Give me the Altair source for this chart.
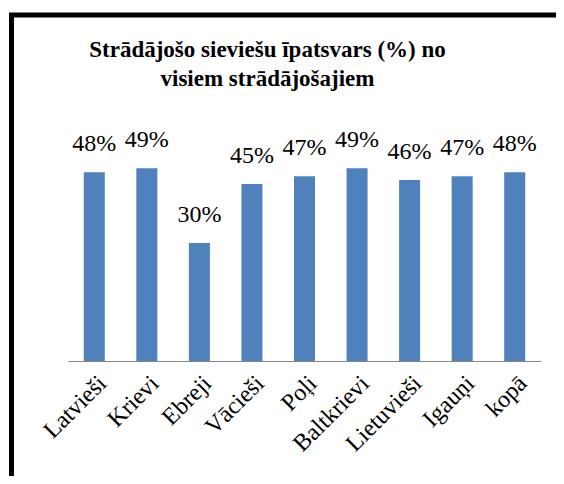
import altair as alt
import pandas as pd

categories = ["Latvieši", "Krievi", "Ebreji", "Vācieši", "Poļi", "Baltkrievi", "Lietuvieši", "Igauņi", "kopā"]
values = [48, 49, 30, 45, 47, 49, 46, 47, 48]
title_lines = ["Strādājošo sieviešu īpatsvars (%) no", "visiem strādājošajiem"]

df = pd.DataFrame({"cat": categories, "v": values})
df["label"] = [f"{v}%" for v in values]

SERIF = "Liberation Serif"

x_enc = alt.X("cat:N", sort=categories, title=None,
              scale=alt.Scale(paddingInner=0.6, paddingOuter=0.3),
              axis=alt.Axis(labelAngle=-45, labelFont=SERIF, labelFontSize=24,
                            labelColor="#000000", ticks=False, labelPadding=10,
                            domainColor="#868686", domainWidth=1.2, grid=False))
y_enc = alt.Y("v:Q", scale=alt.Scale(domain=[0, 60]), axis=None)

bars = alt.Chart(df).mark_bar(color="#4F81BD").encode(x=x_enc, y=y_enc)
labels = alt.Chart(df).mark_text(font=SERIF, fontSize=24, baseline="alphabetic",
                                 dy=-21, color="#000000").encode(
    x=alt.X("cat:N", sort=categories), y="v:Q", text="label:N")

frame = alt.Chart(pd.DataFrame({"a": [0]})).mark_rect(
    fill=None, stroke="#000000", strokeWidth=5).encode(
    x=alt.value(-56.5), x2=alt.value(800), y=alt.value(-110), y2=alt.value(800))

chart = alt.layer(frame, bars, labels).properties(
    width=473, height=236,
    autosize=alt.AutoSizeParams(type="none"),
    padding={"left": 60, "top": 117, "right": 15, "bottom": 115},
    title=alt.TitleParams(text=title_lines, font=SERIF, fontSize=23, fontWeight="bold",
                          color="#000000", anchor="middle", frame="group", dx=-37,
                          offset=-78, lineHeight=29),
).configure_view(stroke=None)

chart.save("out.html", embed_options={"renderer": "svg", "actions": False})
